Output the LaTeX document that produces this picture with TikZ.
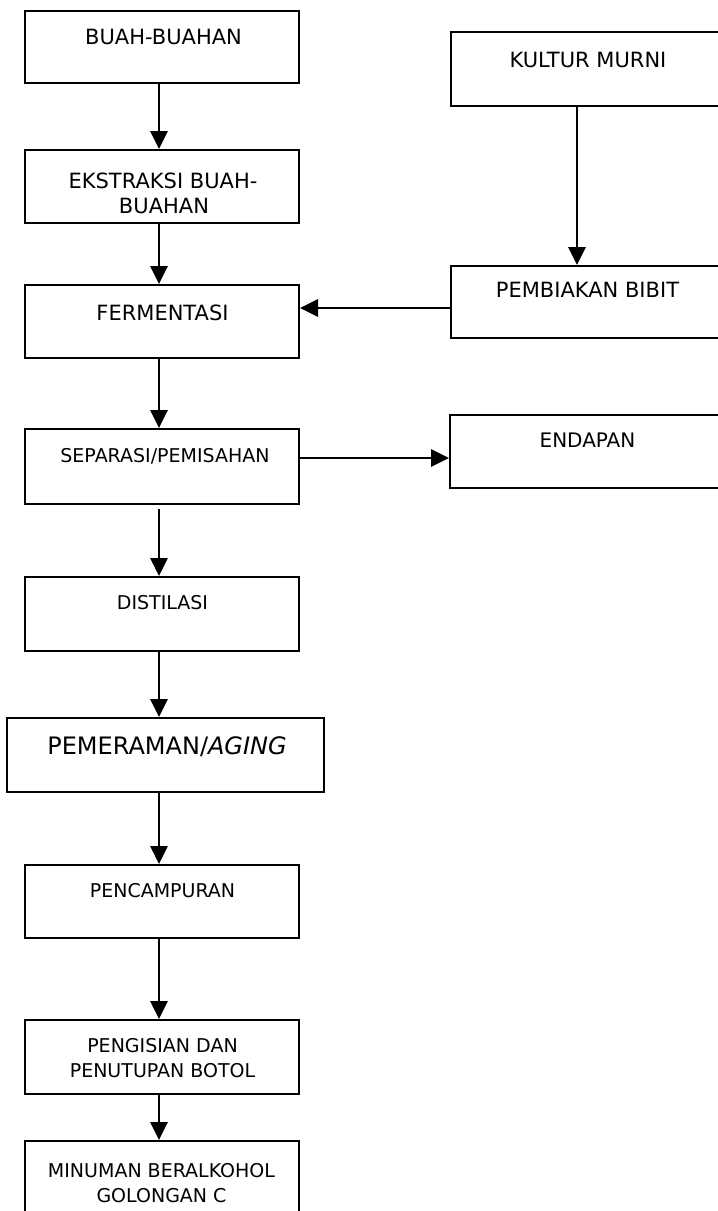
\documentclass[tikz,border=0pt]{standalone}
\usepackage{fontspec}
\setmainfont{DejaVu Sans}
\usetikzlibrary{arrows.meta,calc}
\begin{document}
\begin{tikzpicture}[x=1pt,y=-1pt,
  box/.style={draw, line width=2pt, rectangle, inner sep=0pt, minimum width=274, minimum height=73},
  arr/.style={line width=2.8pt, -{Triangle[length=18pt,width=17pt]}},
  txt/.style={inner sep=0pt, anchor=base},
  fxl/.style={font=\fontsize{24}{28}\selectfont},
  fl/.style={font=\fontsize{21}{25}\selectfont},
  fm/.style={font=\fontsize{20}{24}\selectfont},
  fs/.style={font=\fontsize{19}{23}\selectfont}]
\clip (0,0) rectangle (718,1211);
\fill[white] (0,0) rectangle (718,1211);
% boxes
\node[box, minimum height=72] (b1) at (162,47) {};
\node[box] (b2) at (162,186.5) {};
\node[box] (b3) at (162,321.5) {};
\node[box, minimum height=74] (k1) at (588,69) {};
\node[box, minimum height=72] (k2) at (588,302) {};
\node[box, minimum height=75] (b4) at (162,466.5) {};
\node[box, minimum width=275] (en) at (587.5,451.5) {};
\node[box, minimum height=74] (b5) at (162,614) {};
\node[box, minimum width=317, minimum height=74] (b6) at (165.5,755) {};
\node[box] (b7) at (162,901.5) {};
\node[box, minimum height=74] (b8) at (162,1057) {};
\node[box] (b9) at (162,1177.5) {};
% texts
\node[txt, fl] (t1) at (163.5,44.6) {BUAH-BUAHAN};
\node[txt, fl] (t2a) at (163,188) {EKSTRAKSI BUAH-};
\node[txt, fl] (t2b) at (164,213) {BUAHAN};
\node[txt, fl] (t3) at (162.5,320.6) {FERMENTASI};
\node[txt, fl] (tk1) at (588,67.6) {KULTUR MURNI};
\node[txt, fl] (tk2) at (587.5,297.6) {PEMBIAKAN BIBIT};
\node[txt, fs] (t4) at (165,462.4) {SEPARASI/PEMISAHAN};
\node[txt, fm] (ten) at (587.5,447.3) {ENDAPAN};
\node[txt, fs] (t5) at (162.5,609) {DISTILASI};
\node[txt, fxl] (t6) at (167,754.75) {PEMERAMAN/\textit{AGING}};
\node[txt, fs] (t7) at (162.5,897) {PENCAMPURAN};
\node[txt, fs] (t8a) at (162.5,1052) {PENGISIAN DAN};
\node[txt, fs] (t8b) at (162.5,1077) {PENUTUPAN BOTOL};
\node[txt, fs] (t9a) at (161.5,1177) {MINUMAN BERALKOHOL};
\node[txt, fs] (t9b) at (161.5,1202) {GOLONGAN C};
% connectors
\draw[arr] ([xshift=-3pt]b1.south) -- ([xshift=-3pt]b2.north);
\draw[arr] ([xshift=-3pt]b2.south) -- ([xshift=-3pt]b3.north);
\draw[arr] ([xshift=-3pt]b3.south) -- ([xshift=-3pt]b4.north);
\draw[arr] ([xshift=-3pt,yshift=-4pt]b4.south) -- ([xshift=-3pt]b5.north);
\draw[arr] ([xshift=-3pt]b5.south) -- ([xshift=-6.5pt]b6.north);
\draw[arr] ([xshift=-6.5pt]b6.south) -- ([xshift=-3pt]b7.north);
\draw[arr] ([xshift=-3pt]b7.south) -- ([xshift=-3pt]b8.north);
\draw[arr] ([xshift=-3pt]b8.south) -- ([xshift=-3pt]b9.north);
\draw[arr] ([xshift=-11pt]k1.south) -- ([xshift=-11pt]k2.north);
\draw[arr] (k2.west |- 0,308) -- (b3.east |- 0,308);
\draw[arr] (b4.east |- 0,458) -- (en.west |- 0,458);
\end{tikzpicture}
\end{document}
